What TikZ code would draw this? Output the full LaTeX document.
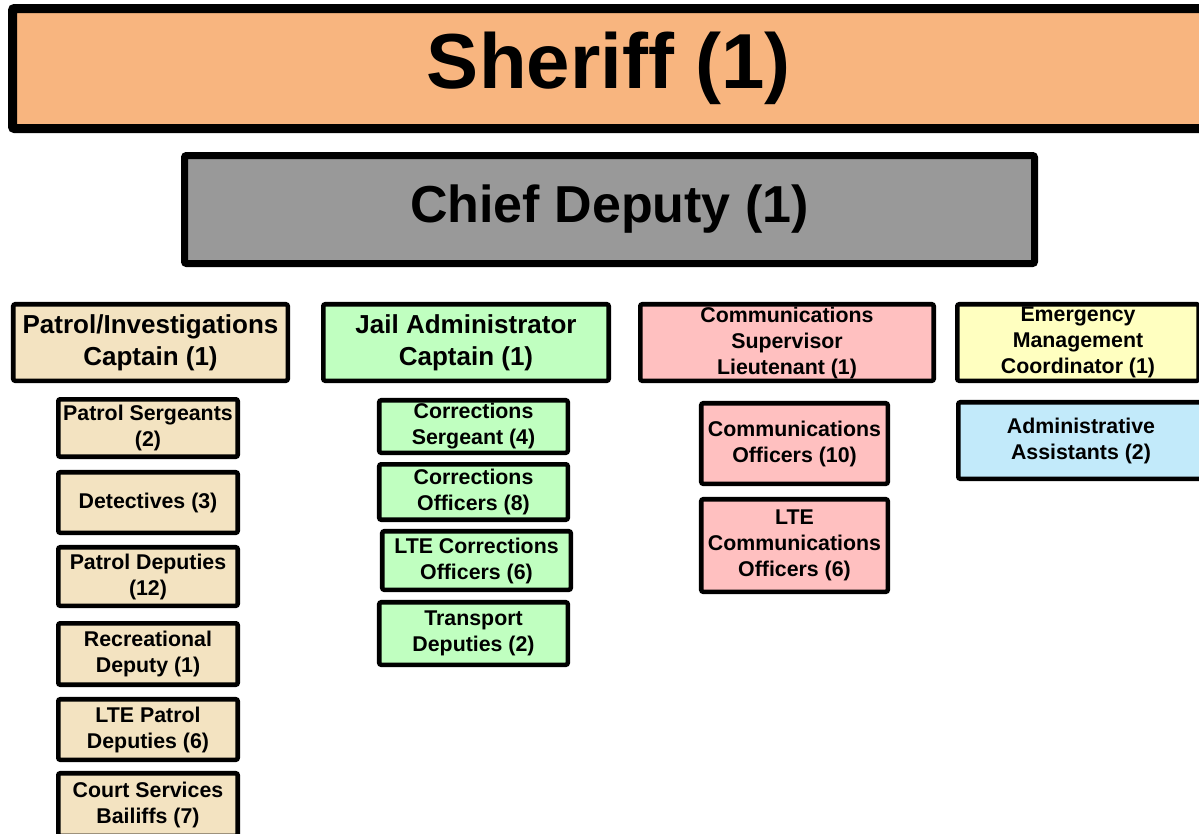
\documentclass[tikz,border=0pt]{standalone}
\usepackage{fontspec}
\setmainfont{Liberation Sans}
\definecolor{cSheriff}{HTML}{F8B57F}
\definecolor{cChief}{HTML}{999999}
\definecolor{cTan}{HTML}{F3E3C1}
\definecolor{cGreen}{HTML}{C0FFC0}
\definecolor{cPink}{HTML}{FFC0C0}
\definecolor{cYellow}{HTML}{FFFFC0}
\definecolor{cBlue}{HTML}{C2EAFA}
\tikzset{
  orgbox/.style={draw=black, rounded corners=1.5pt, inner sep=0pt, align=center, line width=3.4pt},
  smalltxt/.style={orgbox, font=\fontsize{16}{19.5}\selectfont\bfseries},
  midtxt/.style={orgbox, font=\fontsize{19.5}{23.8}\selectfont\bfseries},
}
\begin{document}
\begin{tikzpicture}[x=0.75pt,y=-0.75pt]
\useasboundingbox (0,0) rectangle (1199,833);
% top
\node[orgbox, line width=6.75pt, fill=cSheriff, minimum width=894.75pt, minimum height=90pt,
  font=\fontsize{58.5}{60}\selectfont\bfseries] (sheriff) at (609,68.5) {Sheriff (1)};
\node[orgbox, line width=5.25pt, fill=cChief, minimum width=637.5pt, minimum height=81pt,
  font=\fontsize{39}{42}\selectfont\bfseries] (chief) at (609.5,209.5) {Chief Deputy (1)};
% level 2
\node[midtxt, fill=cTan, minimum width=205.9pt, minimum height=57.4pt] (pic) at (150.5,342.5) {Patrol/Investigations\\Captain (1)};
\node[midtxt, fill=cGreen, minimum width=214.1pt, minimum height=57.4pt] (jac) at (466,342.5) {Jail Administrator\\Captain (1)};
\node[smalltxt, fill=cPink, minimum width=220.1pt, minimum height=57.4pt] (csl) at (787,342.5) {Communications\\Supervisor\\Lieutenant (1)};
\node[smalltxt, fill=cYellow, minimum width=181.1pt, minimum height=57.4pt] (emc) at (1078,342.5) {Emergency\\Management\\Coordinator (1)};
% patrol column
\node[smalltxt, fill=cTan, minimum width=134.6pt, minimum height=43.1pt] (ps) at (148,428) {Patrol Sergeants\\(2)};
\node[smalltxt, fill=cTan, minimum width=134.6pt, minimum height=45.4pt] (dt) at (148,502.5) {Detectives (3)};
\node[smalltxt, fill=cTan, minimum width=134.6pt, minimum height=43.9pt] (pd) at (148,576.5) {Patrol Deputies\\(12)};
\node[smalltxt, fill=cTan, minimum width=134.6pt, minimum height=46.1pt] (rd) at (148,654) {Recreational\\Deputy (1)};
\node[smalltxt, fill=cTan, minimum width=134.6pt, minimum height=45.4pt] (lpd) at (148,729.5) {LTE Patrol\\Deputies (6)};
\node[smalltxt, fill=cTan, minimum width=134.6pt, minimum height=46.9pt] (csb) at (148,804.5) {Court Services\\Bailiffs (7)};
% jail column
\node[smalltxt, fill=cGreen, minimum width=141.4pt, minimum height=39.4pt] (csg) at (473.5,426.5) {Corrections\\Sergeant (4)};
\node[smalltxt, fill=cGreen, minimum width=141.4pt, minimum height=41.6pt] (cof) at (473.5,492) {Corrections\\Officers (8)};
\node[smalltxt, fill=cGreen, minimum width=141.4pt, minimum height=43.9pt] (lco) at (476.5,560.5) {LTE Corrections\\Officers (6)};
\node[smalltxt, fill=cGreen, minimum width=141.4pt, minimum height=46.9pt] (tdp) at (473.5,633.5) {Transport\\Deputies (2)};
% comm column
\node[smalltxt, fill=cPink, minimum width=139.9pt, minimum height=60.4pt] (cmo) at (794.5,443.5) {Communications\\Officers (10)};
\node[smalltxt, fill=cPink, minimum width=139.9pt, minimum height=69.4pt] (lcm) at (794.5,545.5) {LTE\\Communications\\Officers (6)};
% admin
\node[smalltxt, fill=cBlue, minimum width=184.1pt, minimum height=57.4pt] (aas) at (1081,440.5) {Administrative\\Assistants (2)};
\end{tikzpicture}
\end{document}
